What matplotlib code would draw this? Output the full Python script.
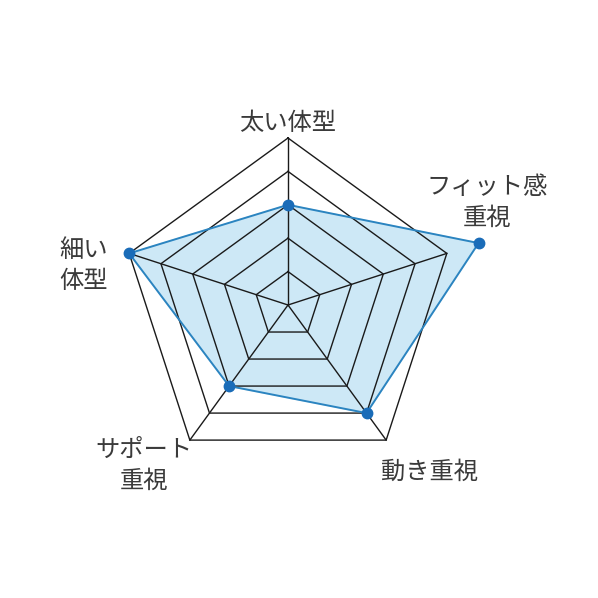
import numpy as np
import matplotlib
matplotlib.use("Agg")
import matplotlib.pyplot as plt

plt.rcParams['font.family'] = ['Noto Sans CJK JP', 'DejaVu Sans']

categories = ["太い体型", "フィット感\n重視", "動き重視", "サポート\n重視", "細い\n体型"]
values = [3, 6, 4, 3, 5]
levels = [1, 2, 3, 4, 5]

W = 598
fig = plt.figure(figsize=(W / 100, W / 100), dpi=100)
fig.patch.set_facecolor("white")

cx, cy = 288, 305
unit = 167 / 5.0
rmax = 6.3
R = rmax * unit
ax = fig.add_axes([(cx - R) / W, (W - cy - R) / W, 2 * R / W, 2 * R / W], projection="polar")
ax.set_theta_offset(np.pi / 2)
ax.set_theta_direction(-1)
ax.set_ylim(0, rmax)
ax.axis("off")

n = len(categories)
theta = np.linspace(0, 2 * np.pi, n, endpoint=False)
tclosed = np.concatenate([theta, theta[:1]])

# grid rings
for lv in levels:
    ax.plot(tclosed, [lv] * (n + 1), color="#1a1a1a", lw=1.0, zorder=3)
# spokes
for t in theta:
    ax.plot([t, t], [0, levels[-1]], color="#1a1a1a", lw=1.0, zorder=3)

vclosed = values + values[:1]
ax.fill(tclosed, vclosed, color="#cde8f6", zorder=1)
ax.plot(tclosed, vclosed, color="#2b84c0", lw=1.4, zorder=4)
ax.plot(theta, values, "o", color="#1a6cb8", ms=7.5, zorder=5)

label_pos = [(288, 123), (487, 202), (429, 472), (144, 465), (84, 266)]
for lab, (x, y) in zip(categories, label_pos):
    fig.text(x / W, 1 - y / W, lab, ha="center", va="center", fontsize=17.5,
             color="#3a3a3a", linespacing=1.25)

fig.savefig("out.png", dpi=100, facecolor="white")
